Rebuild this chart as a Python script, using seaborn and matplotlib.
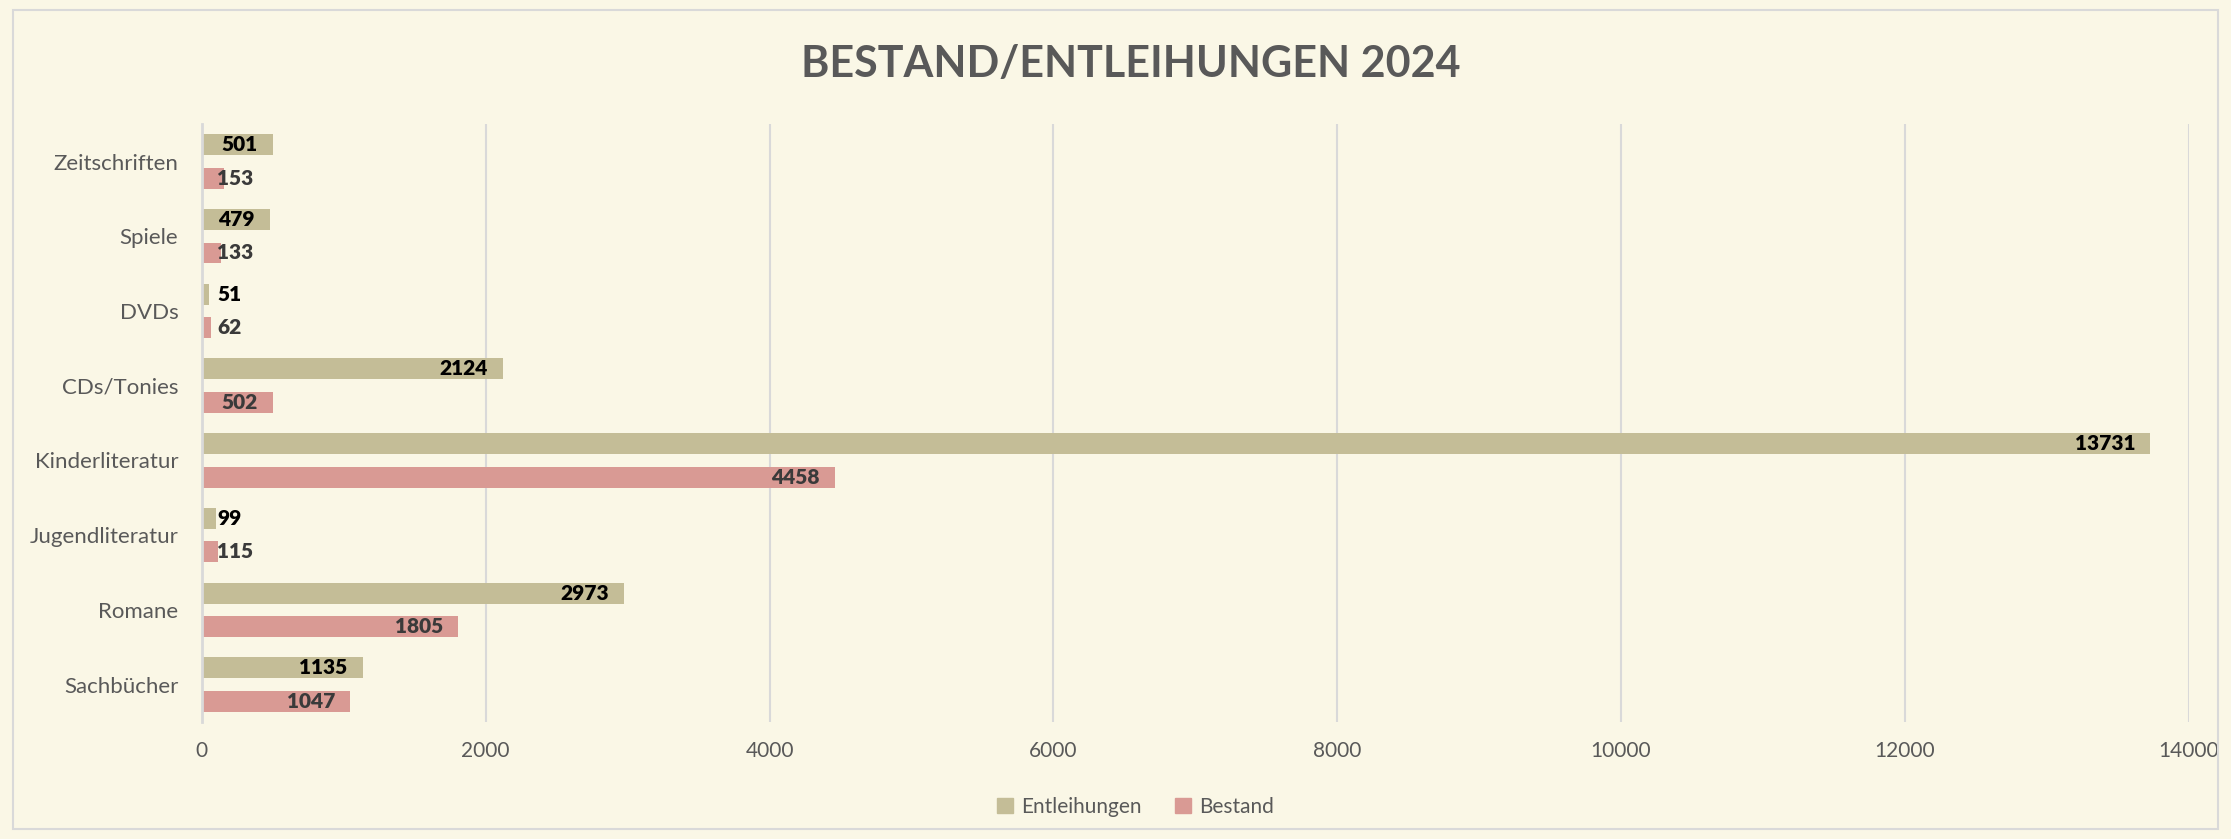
import pandas as pd
import matplotlib.pyplot as plt
import seaborn as sns
from matplotlib.patches import Rectangle

sns.set_style("white")
plt.rcParams['font.family'] = ['Lato', 'DejaVu Sans']

categories = ['Zeitschriften', 'Spiele', 'DVDs', 'CDs/Tonies', 'Kinderliteratur',
              'Jugendliteratur', 'Romane', 'Sachbücher']
entleihungen = [501, 479, 51, 2124, 13731, 99, 2973, 1135]
bestand = [153, 133, 62, 502, 4458, 115, 1805, 1047]
series = ['Entleihungen', 'Bestand']
x_ticks = [0, 2000, 4000, 6000, 8000, 10000, 12000, 14000]

bg = '#FAF7E6'
colors = {'Entleihungen': '#C4BD97', 'Bestand': '#D99A94'}
label_colors = {'Entleihungen': '#000000', 'Bestand': '#3A3A3A'}

df = pd.DataFrame({
    'Kategorie': categories * 2,
    'Serie': ['Entleihungen'] * len(categories) + ['Bestand'] * len(categories),
    'Wert': entleihungen + bestand,
})

fig = plt.figure(figsize=(22.31, 8.39), dpi=100, facecolor=bg)
ax = fig.add_axes([0.0905, 0.1395, 0.8905, 0.7125])
ax.set_facecolor(bg)

sns.barplot(data=df, y='Kategorie', x='Wert', hue='Serie', order=categories,
            hue_order=series, palette=colors, width=0.896, gap=0.373,
            linewidth=0, saturation=1, orient='h', ax=ax)

# data labels, Excel style: inside end, or past the base when the bar is too short
for cont, name in zip(ax.containers, series):
    for bar in cont:
        v = bar.get_width()
        yc = bar.get_y() + bar.get_height() / 2
        if v > 300:
            ax.annotate(f'{int(v)}', xy=(v, yc), xytext=(-11, 0), textcoords='offset points',
                        ha='right', va='center', fontsize=15, fontweight='heavy',
                        color=label_colors[name])
        else:
            ax.annotate(f'{int(v)}', xy=(0, yc), xytext=(11, 0), textcoords='offset points',
                        ha='left', va='center', fontsize=15, fontweight='heavy',
                        color=label_colors[name])

ax.set_xlim(0, 14000)
ax.set_xticks(x_ticks)
ax.set_xlabel('')
ax.set_ylabel('')
ax.grid(axis='x', color='#D9D9D9', linewidth=1.5)
ax.set_axisbelow(True)
for s in ['top', 'right', 'bottom']:
    ax.spines[s].set_visible(False)
ax.spines['left'].set_color('#D9D9D9')
ax.spines['left'].set_linewidth(2)
ax.tick_params(axis='x', length=0, pad=14, labelsize=15, labelcolor='#595959')
ax.tick_params(axis='y', length=0, pad=17, labelsize=16, labelcolor='#595959')

ax.legend_.remove()
handles = [Rectangle((0, 0), 1, 1, color=colors[s]) for s in series]
fig.legend(handles, series, loc='center', bbox_to_anchor=(0.509, 0.038), ncol=2,
           frameon=False, fontsize=15, labelcolor='#595959', handlelength=0.75,
           handleheight=0.75, handletextpad=0.4, columnspacing=1.6)

fig.text(0.507, 0.924, 'BESTAND/ENTLEIHUNGEN 2024', ha='center', va='center',
         fontsize=31, fontweight='bold', color='#595959')

fig.patches.append(Rectangle((0.006, 0.012), 0.988, 0.976, transform=fig.transFigure,
                             fill=False, edgecolor='#D9D9D9', linewidth=1.5))

fig.savefig('out.png', dpi=100, facecolor=bg)
